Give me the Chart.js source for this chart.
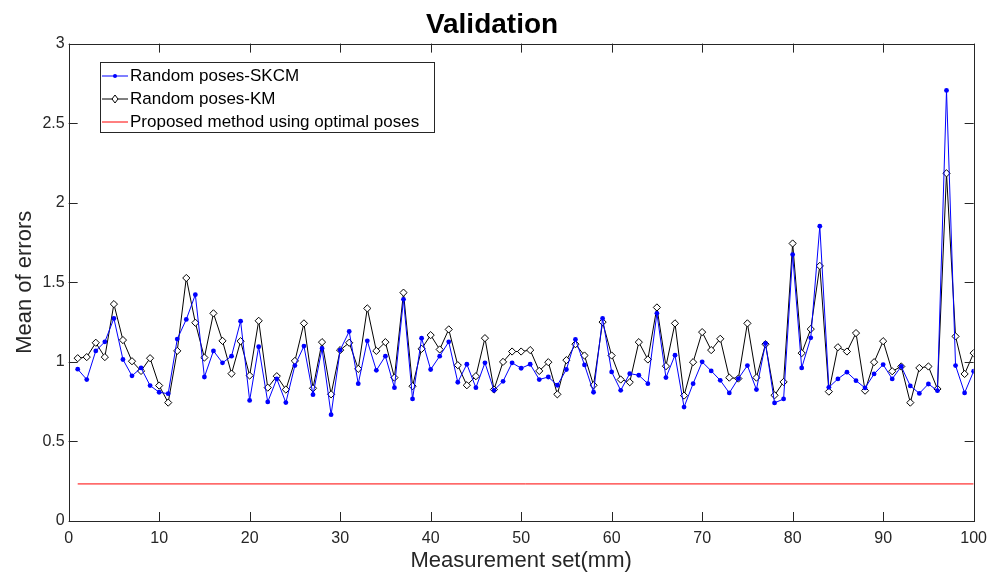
<!DOCTYPE html>
<html>
<head>
<meta charset="utf-8">
<script src="https://cdn.jsdelivr.net/npm/chart.js@4/dist/chart.umd.min.js"></script>
<style>
    html, body { margin: 0; padding: 0; background: #fff; }
    #wrap { width: 997px; height: 576px; position: relative; }
</style>
</head>
<body>
<div id="wrap"><canvas id="chart" width="997" height="576"></canvas></div>
<script>
    // measurement sets 1..100
    var measurementSets = Array.from({length: 100}, function (_, i) { return i + 1; });

    var skcmErrors = [
        0.954, 0.889, 1.069, 1.126, 1.273, 1.015, 0.912, 0.962, 0.851, 0.809,
        0.800, 1.143, 1.267, 1.422, 0.905, 1.069, 0.994, 1.036, 1.256, 0.758,
        1.095, 0.748, 0.893, 0.744, 0.977, 1.099, 0.794, 1.084, 0.668, 1.074,
        1.191, 0.863, 1.132, 0.947, 1.036, 0.838, 1.393, 0.767, 1.149, 0.952,
        1.036, 1.126, 0.872, 0.985, 0.838, 0.994, 0.821, 0.878, 0.994, 0.960,
        0.985, 0.889, 0.905, 0.853, 0.952, 1.141, 0.981, 0.809, 1.273, 0.937,
        0.821, 0.926, 0.916, 0.863, 1.305, 0.901, 1.042, 0.716, 0.863, 1.000,
        0.943, 0.884, 0.805, 0.895, 0.977, 0.826, 1.116, 0.742, 0.767, 1.674,
        0.962, 1.151, 1.853, 0.840, 0.893, 0.935, 0.882, 0.836, 0.924, 0.983,
        0.893, 0.971, 0.849, 0.802, 0.861, 0.819, 2.706, 0.977, 0.805, 0.941
    ];

    var kmErrors = [
        1.023, 1.030, 1.120, 1.030, 1.363, 1.137, 1.004, 0.943, 1.023, 0.851,
        0.744, 1.069, 1.527, 1.246, 1.027, 1.305, 1.132, 0.926, 1.130, 0.914,
        1.258, 0.838, 0.910, 0.826, 1.006, 1.242, 0.834, 1.124, 0.796, 1.074,
        1.120, 0.956, 1.336, 1.069, 1.124, 0.901, 1.435, 0.847, 1.082, 1.168,
        1.078, 1.204, 0.979, 0.853, 0.910, 1.149, 0.826, 1.000, 1.065, 1.065,
        1.074, 0.943, 0.998, 0.796, 1.011, 1.111, 1.040, 0.853, 1.250, 1.040,
        0.889, 0.872, 1.124, 1.015, 1.342, 0.973, 1.242, 0.788, 0.998, 1.187,
        1.074, 1.145, 0.901, 0.895, 1.242, 0.901, 1.111, 0.790, 0.874, 1.744,
        1.055, 1.206, 1.603, 0.813, 1.092, 1.065, 1.181, 0.819, 0.998, 1.130,
        0.941, 0.971, 0.744, 0.962, 0.971, 0.830, 2.185, 1.160, 0.924, 1.055
    ];

    // proposed method: constant level over the whole range
    var proposedX = [1, 100];
    var proposedErrors = [0.233, 0.233];

    var xTicks = [0, 10, 20, 30, 40, 50, 60, 70, 80, 90, 100];
    var yTicks = [0, 0.5, 1, 1.5, 2, 2.5, 3];

    var FONT = '"Liberation Sans", Arial, Helvetica, sans-serif';
    var AXIS_COLOR = '#262626';

    function toPoints(xs, ys) {
        return xs.map(function (x, i) { return {x: x, y: ys[i]}; });
    }

    // MATLAB-like box with inward ticks on all four sides
    var boxPlugin = {
        id: 'matlabBox',
        afterDraw: function (chart) {
            let ctx = chart.ctx;
            let a = chart.chartArea;
            let xs = chart.scales.x, ys = chart.scales.y;
            let len = 9;
            ctx.save();
            ctx.strokeStyle = AXIS_COLOR;
            ctx.lineWidth = 1;
            ctx.beginPath();
            xTicks.forEach(function (v) {
                let px = Math.round(xs.getPixelForValue(v)) + 0.5;
                ctx.moveTo(px, a.bottom); ctx.lineTo(px, a.bottom - len);
                ctx.moveTo(px, a.top); ctx.lineTo(px, a.top + len);
            });
            yTicks.forEach(function (v) {
                let py = Math.round(ys.getPixelForValue(v)) + 0.5;
                ctx.moveTo(a.left, py); ctx.lineTo(a.left + len, py);
                ctx.moveTo(a.right, py); ctx.lineTo(a.right - len, py);
            });
            ctx.stroke();
            ctx.strokeRect(Math.round(a.left) + 0.5, Math.round(a.top) + 0.5,
                Math.round(a.right - a.left), Math.round(a.bottom - a.top));
            ctx.restore();
        }
    };

    // legend box drawn inside the axes, top-left
    var legendPlugin = {
        id: 'insideLegend',
        afterDatasetsDraw: function (chart) {
            let ctx = chart.ctx;
            let a = chart.chartArea;
            let x0 = Math.round(a.left) + 31, y0 = Math.round(a.top) + 18;
            let w = 334, rowH = 23, h = 70;
            ctx.save();
            ctx.fillStyle = '#fff';
            ctx.fillRect(x0, y0, w, h);
            ctx.strokeStyle = AXIS_COLOR;
            ctx.lineWidth = 1;
            ctx.strokeRect(x0 + 0.5, y0 + 0.5, w, h);
            ctx.font = '17px ' + FONT;
            ctx.textBaseline = 'middle';
            chart.data.datasets.forEach(function (ds, i) {
                let cy = y0 + 13.5 + i * rowH;
                ctx.strokeStyle = ds.borderColor;
                ctx.lineWidth = 1;
                ctx.beginPath();
                ctx.moveTo(x0 + 2, cy + 0.5);
                ctx.lineTo(x0 + 28, cy + 0.5);
                ctx.stroke();
                if (ds.pointRadius > 0) {
                    let cx = x0 + 15;
                    if (ds.pointStyle === 'rectRot') {
                        ctx.fillStyle = '#fff';
                        ctx.beginPath();
                        ctx.moveTo(cx, cy - 3.5); ctx.lineTo(cx + 3, cy + 0.5);
                        ctx.lineTo(cx, cy + 4.5); ctx.lineTo(cx - 3, cy + 0.5);
                        ctx.closePath();
                        ctx.fill(); ctx.stroke();
                    } else {
                        ctx.fillStyle = ds.borderColor;
                        ctx.beginPath();
                        ctx.arc(cx, cy + 0.5, 2, 0, Math.PI * 2);
                        ctx.fill();
                    }
                }
                ctx.fillStyle = '#000';
                ctx.fillText(ds.label, x0 + 30, cy + 1);
            });
            ctx.restore();
        }
    };

    var chartObject = {
        type: 'line',
        data: {
            datasets: [{
                label: 'Random poses-SKCM',
                data: toPoints(measurementSets, skcmErrors),
                borderColor: '#0000ff',
                backgroundColor: '#0000ff',
                borderWidth: 1,
                pointStyle: 'circle',
                pointRadius: 2.4,
                pointBorderWidth: 0,
                fill: false,
            }, {
                label: 'Random poses-KM',
                data: toPoints(measurementSets, kmErrors),
                borderColor: '#000000',
                backgroundColor: '#ffffff',
                borderWidth: 1,
                pointStyle: 'rectRot',
                pointRadius: 3.6,
                pointBorderWidth: 1,
                fill: false,
            }, {
                label: 'Proposed method using optimal poses',
                data: toPoints(proposedX, proposedErrors),
                borderColor: '#ff0000',
                backgroundColor: '#ff0000',
                borderWidth: 1,
                pointRadius: 0,
                fill: false,
            }]
        },
        options: {
            responsive: false,
            animation: false,
            layout: {padding: {left: 8, right: 21, top: 0, bottom: 0}},
            plugins: {
                legend: {display: false},
                tooltip: {enabled: false},
                title: {
                    display: true,
                    text: 'Validation',
                    color: '#000',
                    font: {family: FONT, size: 28, weight: 'bold'},
                    padding: {top: 8, bottom: 2},
                },
            },
            scales: {
                x: {
                    type: 'linear',
                    min: 0, max: 100,
                    grid: {display: false, drawTicks: false},
                    border: {display: false},
                    afterBuildTicks: function (axis) {
                        axis.ticks = xTicks.map(function (v) { return {value: v}; });
                    },
                    ticks: {
                        color: AXIS_COLOR,
                        font: {family: FONT, size: 16, lineHeight: 1},
                        padding: 10,
                        maxRotation: 0,
                        callback: function (v) { return String(v); },
                    },
                    title: {
                        display: true,
                        text: 'Measurement set(mm)',
                        color: AXIS_COLOR,
                        font: {family: FONT, size: 22, lineHeight: 1},
                        padding: {top: -7, bottom: 4},
                    },
                },
                y: {
                    type: 'linear',
                    min: 0, max: 3,
                    grid: {display: false, drawTicks: false},
                    border: {display: false},
                    afterBuildTicks: function (axis) {
                        axis.ticks = yTicks.map(function (v) { return {value: v}; });
                    },
                    ticks: {
                        color: AXIS_COLOR,
                        font: {family: FONT, size: 16},
                        padding: 4,
                        callback: function (v) { return String(v); },
                    },
                    title: {
                        display: true,
                        text: 'Mean of errors',
                        color: AXIS_COLOR,
                        font: {family: FONT, size: 22},
                        padding: {top: 4, bottom: 0},
                    },
                },
            },
        },
        plugins: [boxPlugin, legendPlugin],
    };

    new Chart(document.getElementById('chart'), chartObject);
</script>
</body>
</html>
